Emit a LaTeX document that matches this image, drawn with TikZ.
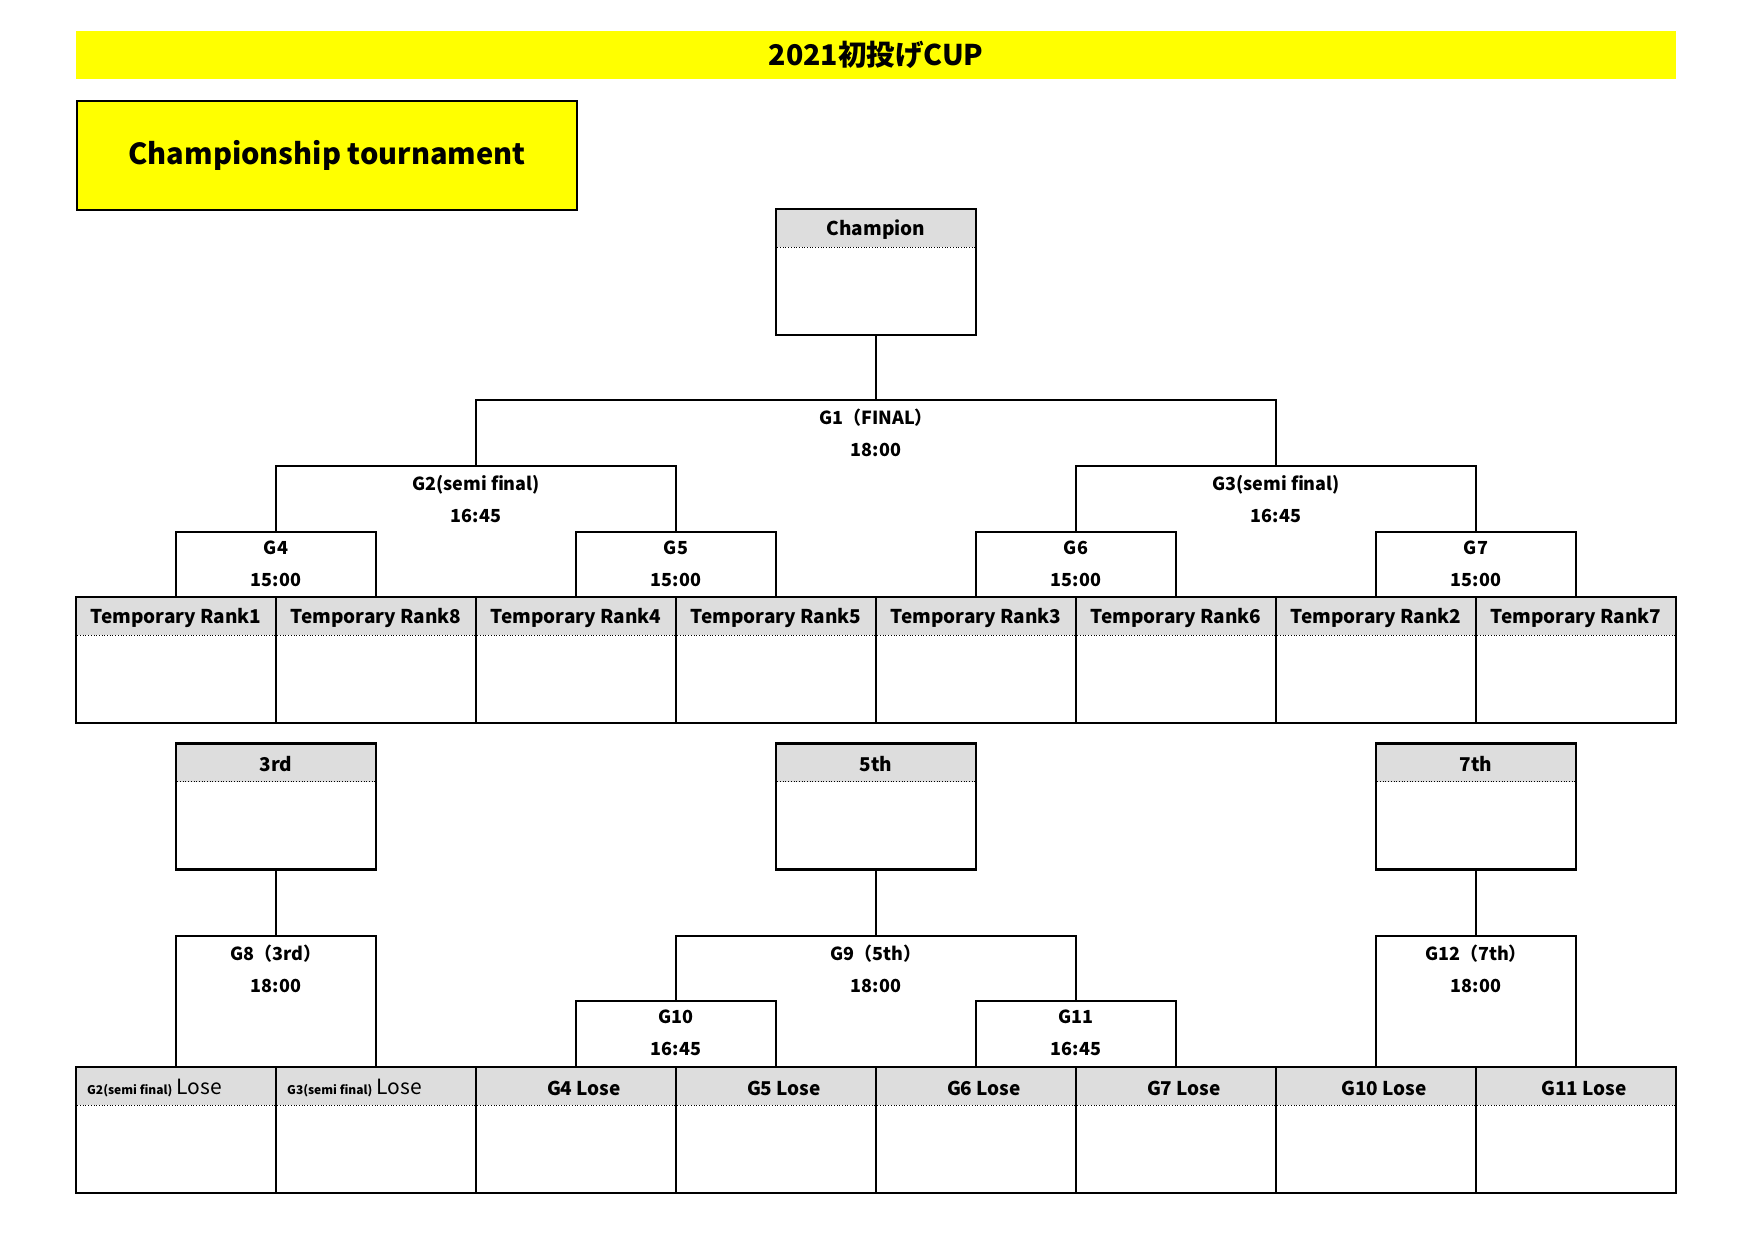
\documentclass[tikz,border=0pt]{standalone}
\usepackage{fontspec}
\setmainfont{Noto Sans CJK JP}
\usetikzlibrary{positioning}

\definecolor{headgray}{RGB}{221,221,221}
\definecolor{cupyellow}{RGB}{255,255,0}

\begin{document}
\begin{tikzpicture}[x=1pt, y=-1pt, font=\bfseries,
  slot/.style={draw, line width=2.6pt, minimum width=200pt, minimum height=126pt, inner sep=0pt, outer sep=0pt, anchor=north west},
  headtext/.style={font=\fontsize{19}{22}\selectfont\bfseries, inner sep=0pt},
  sep/.style={dotted, line width=0.7pt},
  link/.style={line width=1.3pt},
  gamelabel/.style={font=\fontsize{18}{32}\selectfont\bfseries, align=center, inner sep=0pt}]

\useasboundingbox (0,0) rectangle (1753,1240);

% Title bar
\fill[cupyellow] (76,31) rectangle (1676,79);
\node[font=\fontsize{28.5}{30}\selectfont\bfseries] (title) at (876,55) {2021初投げCUP};

% Banner
\node[draw, line width=2.6pt, fill=cupyellow, minimum width=500pt, minimum height=109pt, outer sep=0pt, anchor=north west,
  font=\fontsize{29}{32}\selectfont\bfseries] (banner) at (77,101) {Championship tournament};

% Result boxes
\foreach \nm/\x/\y/\lab in {champ/776/209/Champion, third/176/743.5/3rd, fifth/776/743.5/5th, seventh/1376/743.5/7th} {
  \node[slot] (\nm) at (\x,\y) {};
  \fill[headgray] ([shift={(1.3,1.3)}]\nm.north west) rectangle ([shift={(-1.3,38)}]\nm.north east);
  \draw[sep] ([shift={(1.3,38)}]\nm.north west) -- ([shift={(-1.3,38)}]\nm.north east);
  \node[headtext] at ([shift={(0,21)}]\nm.north) {\lab};
}

% Seeded teams
\foreach \i/\lab in {1/Temporary Rank1, 2/Temporary Rank8, 3/Temporary Rank4, 4/Temporary Rank5,
                     5/Temporary Rank3, 6/Temporary Rank6, 7/Temporary Rank2, 8/Temporary Rank7} {
  \node[slot] (t\i) at (200*\i-124,597) {};
  \fill[headgray] ([shift={(1.3,1.3)}]t\i.north west) rectangle ([shift={(-1.3,38)}]t\i.north east);
  \draw[sep] ([shift={(1.3,38)}]t\i.north west) -- ([shift={(-1.3,38)}]t\i.north east);
  \node[headtext] at ([shift={(0,21)}]t\i.north) {\lab};
}

% Losers
\foreach \i/\lab in {1/, 2/, 3/G4 Lose, 4/G5 Lose, 5/G6 Lose, 6/G7 Lose, 7/G10 Lose, 8/G11 Lose} {
  \node[slot] (b\i) at (200*\i-124,1067) {};
  \fill[headgray] ([shift={(1.3,1.3)}]b\i.north west) rectangle ([shift={(-1.3,38)}]b\i.north east);
  \draw[sep] ([shift={(1.3,38)}]b\i.north west) -- ([shift={(-1.3,38)}]b\i.north east);
  \node[headtext] at ([shift={(8,21)}]b\i.north) {\lab};
}
\node[headtext, anchor=west] at ([shift={(11,21)}]b1.north west) {{\fontsize{12}{14}\selectfont G2(semi final)} \mdseries\fontsize{21}{22}\selectfont Lose};
\node[headtext, anchor=west] at ([shift={(11,21)}]b2.north west) {{\fontsize{12}{14}\selectfont G3(semi final)} \mdseries\fontsize{21}{22}\selectfont Lose};

% Bracket points
\coordinate (g1top) at (876,400);
\coordinate (g2top) at (476,466);
\coordinate (g3top) at (1276,466);
\coordinate (g4top) at (276,532);
\coordinate (g5top) at (676,532);
\coordinate (g6top) at (1076,532);
\coordinate (g7top) at (1476,532);
\coordinate (g8top) at (276,936);
\coordinate (g9top) at (876,936);
\coordinate (g12top) at (1476,936);
\coordinate (g10top) at (676,1001);
\coordinate (g11top) at (1076,1001);

% Championship bracket
\draw[link] (champ.south) -- (g1top);
\draw[link] (g2top) |- (g1top) -| (g3top);
\draw[link] (g4top) |- (g2top) -| (g5top);
\draw[link] (g6top) |- (g3top) -| (g7top);
\draw[link] (t1.north) |- (g4top) -| (t2.north);
\draw[link] (t3.north) |- (g5top) -| (t4.north);
\draw[link] (t5.north) |- (g6top) -| (t6.north);
\draw[link] (t7.north) |- (g7top) -| (t8.north);

% Placement brackets
\draw[link] (third.south) -- (g8top);
\draw[link] (b1.north) |- (g8top) -| (b2.north);
\draw[link] (fifth.south) -- (g9top);
\draw[link] (g10top) |- (g9top) -| (g11top);
\draw[link] (b3.north) |- (g10top) -| (b4.north);
\draw[link] (b5.north) |- (g11top) -| (b6.north);
\draw[link] (seventh.south) -- (g12top);
\draw[link] (b7.north) |- (g12top) -| (b8.north);

% Game labels
\node[gamelabel, below=9pt of g1top] (g1) {G1（FINAL）\\18:00};
\node[gamelabel, below=9pt of g2top] (g2) {G2(semi final)\\16:45};
\node[gamelabel, below=9pt of g3top] (g3) {G3(semi final)\\16:45};
\node[gamelabel, below=9pt of g4top] (g4) {G4\\15:00};
\node[gamelabel, below=9pt of g5top] (g5) {G5\\15:00};
\node[gamelabel, below=9pt of g6top] (g6) {G6\\15:00};
\node[gamelabel, below=9pt of g7top] (g7) {G7\\15:00};
\node[gamelabel, below=9pt of g8top] (g8) {G8（3rd）\\18:00};
\node[gamelabel, below=9pt of g9top] (g9) {G9（5th）\\18:00};
\node[gamelabel, below=9pt of g12top] (g12) {G12（7th）\\18:00};
\node[gamelabel, below=9pt of g10top] (g10) {G10\\16:45};
\node[gamelabel, below=9pt of g11top] (g11) {G11\\16:45};

\end{tikzpicture}
\end{document}
